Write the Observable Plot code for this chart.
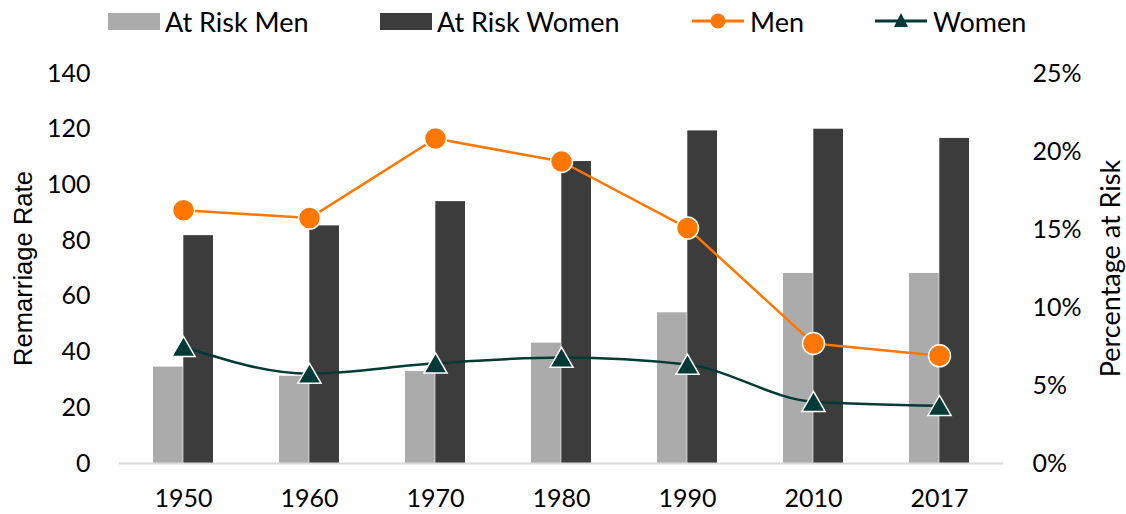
<!DOCTYPE html>
<html>
<head>
<meta charset="utf-8">
<script src="https://cdn.jsdelivr.net/npm/d3@7"></script>
<script src="https://cdn.jsdelivr.net/npm/@observablehq/plot@0.6"></script>
<style>
  html, body { margin: 0; padding: 0; background: #fff; }
  #wrap { position: relative; width: 1126px; height: 514px; font-family: Lato, "Open Sans", sans-serif; color: #000; }
  #legend { position: relative; width: 1126px; height: 45px; }
  .item { position: absolute; top: 0; height: 42px; display: flex; align-items: center; font-size: 27px; white-space: nowrap; }
  .sw { width: 52px; height: 17px; margin-right: 5px; }
  .lsw { width: 52px; height: 20px; margin-right: 6px; }
</style>
</head>
<body>
<div id="wrap">
  <div id="legend"></div>
  <div id="chart"></div>
</div>
<script>
const years = ["1950", "1960", "1970", "1980", "1990", "2010", "2017"];
const atRiskMen = [34.6, 31.3, 33.0, 43.2, 54.1, 68.2, 68.2];
const atRiskWomen = [81.8, 85.3, 94.0, 108.4, 119.4, 120.0, 116.7];
const menPct = [16.24, 15.73, 20.83, 19.36, 15.09, 7.69, 6.90];
const womenPct = [7.48, 5.76, 6.42, 6.79, 6.34, 3.96, 3.70];
const leftTicks = [0, 20, 40, 60, 80, 100, 120, 140];
const rightTicks = [0, 5, 10, 15, 20, 25];
const leftMax = 140, rightMax = 25;
const seriesNames = ["At Risk Men", "At Risk Women", "Men", "Women"];
const colors = ["#ababab", "#3c3c3c", "#ff7700", "#003a36"];

const toLeft = p => p * leftMax / rightMax;
const rows = years.map((year, i) => ({
  year, men: atRiskMen[i], women: atRiskWomen[i], menPct: menPct[i], womenPct: womenPct[i]
}));

const half = 30.3;
const chart = Plot.plot({
  width: 1126,
  height: 469,
  marginTop: 28,
  marginBottom: 51,
  marginLeft: 119,
  marginRight: 123,
  style: { fontFamily: "Lato, 'Open Sans', sans-serif", fontSize: "25px", color: "#000", background: "transparent" },
  x: { type: "band", domain: years, paddingInner: 0.52, paddingOuter: 0.26, axis: null },
  y: { domain: [0, leftMax], axis: null },
  marks: [
    Plot.barY(rows, { x: "year", y: "men", fill: colors[0], insetRight: half }),
    Plot.barY(rows, { x: "year", y: "women", fill: colors[1], insetLeft: half }),
    Plot.ruleY([0], { stroke: "#d9d9d9", strokeWidth: 2 }),
    Plot.axisX({ tickSize: 0, tickPadding: 26, fontSize: 25, label: null }),
    Plot.axisY(leftTicks, { anchor: "left", tickSize: 0, tickPadding: 29, fontSize: 25, label: null }),
    Plot.axisY(rightTicks.map(toLeft), { anchor: "right", tickSize: 0, tickPadding: 29, fontSize: 25, label: null,
      tickFormat: d => Math.round(d * rightMax / leftMax) + "%" }),
    Plot.text(["Remarriage Rate"], { frameAnchor: "left", textAnchor: "middle", lineAnchor: "middle", dx: -96, rotate: -90, fontSize: 25.6,
      fontFamily: "'Liberation Sans', Arial, sans-serif", fill: "#000" }),
    Plot.text(["Percentage at Risk"], { frameAnchor: "right", textAnchor: "middle", lineAnchor: "middle", dx: 108, rotate: -90, fontSize: 27, fill: "#000" }),
    Plot.line(rows, { x: "year", y: d => toLeft(d.menPct), stroke: colors[2], strokeWidth: 2.5 }),
    Plot.line(rows, { x: "year", y: d => toLeft(d.womenPct), stroke: colors[3], strokeWidth: 2.5, curve: "monotone-x" }),
    Plot.dot(rows, { x: "year", y: d => toLeft(d.menPct), r: 11, fill: colors[2], stroke: "white", strokeWidth: 1.5 }),
    Plot.dot(rows, { x: "year", y: d => toLeft(d.womenPct), symbol: "triangle", r: 8.6, dy: 3, fill: colors[3], stroke: "white", strokeWidth: 1.5 })
  ]
});
document.getElementById("chart").appendChild(chart);

// legend
const legend = document.getElementById("legend");
const lefts = [108, 380, 692, 875];
seriesNames.forEach((name, i) => {
  const item = document.createElement("div");
  item.className = "item";
  item.style.left = lefts[i] + "px";
  if (i < 2) {
    const sw = document.createElement("div");
    sw.className = "sw";
    sw.style.background = colors[i];
    item.appendChild(sw);
  } else {
    const ns = "http://www.w3.org/2000/svg";
    const s = document.createElementNS(ns, "svg");
    s.setAttribute("class", "lsw");
    s.setAttribute("width", 52); s.setAttribute("height", 20);
    const ln = document.createElementNS(ns, "line");
    ln.setAttribute("x1", 0); ln.setAttribute("x2", 52); ln.setAttribute("y1", 10); ln.setAttribute("y2", 10);
    ln.setAttribute("stroke", colors[i]); ln.setAttribute("stroke-width", 3);
    s.appendChild(ln);
    let m;
    if (i === 2) {
      m = document.createElementNS(ns, "circle");
      m.setAttribute("cx", 26); m.setAttribute("cy", 10); m.setAttribute("r", 7.5);
    } else {
      m = document.createElementNS(ns, "path");
      m.setAttribute("d", "M26,2 L33,16 L19,16 Z");
    }
    m.setAttribute("fill", colors[i]);
    s.appendChild(m);
    item.appendChild(s);
  }
  const t = document.createElement("span");
  t.textContent = name;
  item.appendChild(t);
  legend.appendChild(item);
});
</script>
</body>
</html>
